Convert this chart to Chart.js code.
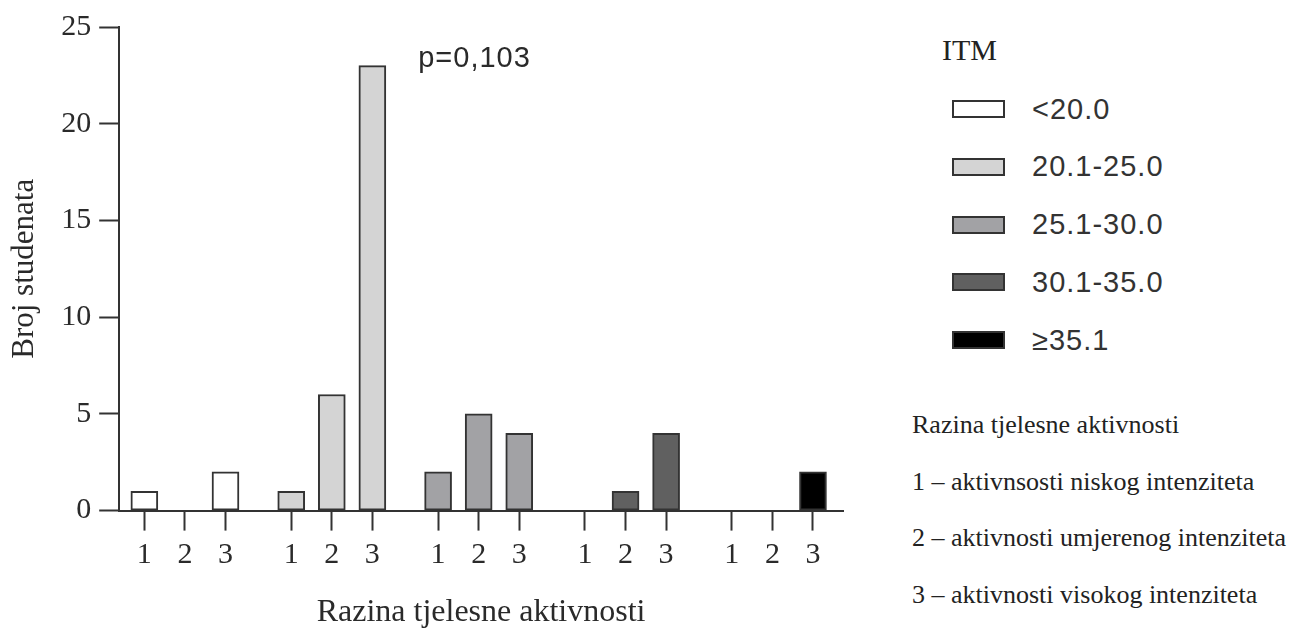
<!DOCTYPE html>
<html lang="hr">
<head>
<meta charset="utf-8">
<title>Broj studenata prema ITM i razini tjelesne aktivnosti</title>
<script src="https://cdn.jsdelivr.net/npm/chart.js@4.4.0/dist/chart.umd.min.js"></script>
<style>
  body { margin: 0; background: #fff; }
  #wrap {
    position: relative;
    width: 1296px;
    height: 632px;
    overflow: hidden;
    font-family: "Liberation Serif", "Times New Roman", serif;
    color: #222;
  }
  #chart-box { position: absolute; left: 0; top: 0; width: 880px; height: 632px; }
  .tekst { position: absolute; line-height: 40px; height: 40px; white-space: nowrap; }
  #itm { left: 942px; top: 30px; font-size: 30px; }
  .red { position: absolute; left: 952px; height: 40px; display: flex; align-items: center; }
  .kutija { width: 53px; height: 18px; border: 2px solid #333; box-sizing: border-box; }
  .oznaka {
    margin-left: 27px;
    font-family: "Liberation Sans", Arial, sans-serif;
    font-size: 29px;
    letter-spacing: 1px;
    color: #333;
  }
  .biljeska { left: 912px; font-size: 26px; }
</style>
</head>
<body>
<div id="wrap">
  <div id="chart-box"><canvas id="grafikon"></canvas></div>
  <div id="itm" class="tekst">ITM</div>
  <div id="legenda"></div>
  <div id="biljeske"></div>
</div>
<script>
// kategorije ITM (grupe) i razine tjelesne aktivnosti
const itmKategorije = ["<20.0", "20.1-25.0", "25.1-30.0", "30.1-35.0", "≥35.1"];
const razine = ["1", "2", "3"];

// broj studenata po razini aktivnosti (1, 2, 3) za svaku ITM grupu
const itmManjeOd20 = [1, 0, 2];
const itm20do25 = [1, 6, 23];
const itm25do30 = [2, 5, 4];
const itm30do35 = [0, 1, 4];
const itmVeceOd35 = [0, 0, 2];

// oznake osi y
const yOznake = [0, 5, 10, 15, 20, 25];

const pTekst = "p=0,103";
const biljeske = [
  "Razina tjelesne aktivnosti",
  "1 – aktivnsosti niskog intenziteta",
  "2 – aktivnosti umjerenog intenziteta",
  "3 – aktivnosti visokog intenziteta",
];

// boje grupa
const boje = ["#ffffff", "#d4d4d4", "#a2a2a5", "#606060", "#000000"];
const rub = "#333333";
const tekstBoja = "#2a2a2a";
const serif = '"Liberation Serif", "Times New Roman", serif';

// razmak izmedu grupa (u jedinicama jedne kategorije)
const korakGrupe = 3.62;

const serije = [itmManjeOd20, itm20do25, itm25do30, itm30do35, itmVeceOd35];

// pozicije kategorija na osi x
const pozicije = [];
serije.forEach((s, g) => razine.forEach((r, i) => pozicije.push(g * korakGrupe + i)));

const datasets = serije.map((vrijednosti, g) => ({
  label: itmKategorije[g],
  data: vrijednosti.map((y, i) => ({ x: g * korakGrupe + i, y: y })),
  backgroundColor: boje[g],
  borderColor: rub,
  borderWidth: 2,
  borderSkipped: false,
  barThickness: 27,
  grouped: false,
}));

// tekst p vrijednosti iznad grafikona
const pVrijednost = {
  id: "pVrijednost",
  afterDraw(chart) {
    const { ctx, chartArea } = chart;
    ctx.save();
    ctx.font = '29px "Liberation Sans", Arial, sans-serif';
    ctx.fillStyle = tekstBoja;
    ctx.textBaseline = "alphabetic";
    ctx.letterSpacing = "1px";
    ctx.fillText(pTekst, chartArea.left + 299, 67);
    ctx.restore();
  },
};

const ctx = document.getElementById("grafikon");
const grafikon = new Chart(ctx, {
  type: "bar",
  data: { datasets: datasets },
  plugins: [pVrijednost],
  options: {
    responsive: true,
    maintainAspectRatio: false,
    animation: false,
    layout: { padding: { left: 4, top: 27, right: 37, bottom: 0 } },
    plugins: {
      legend: { display: false },
      tooltip: { enabled: false },
    },
    scales: {
      x: {
        type: "linear",
        offset: false,
        min: -0.62,
        max: 17.22,
        afterBuildTicks: (axis) => {
          axis.ticks = pozicije.map((v) => ({ value: v }));
        },
        ticks: {
          autoSkip: false,
          maxRotation: 0,
          padding: 7,
          color: tekstBoja,
          font: { family: serif, size: 30 },
          callback: (v, i) => razine[i % razine.length],
        },
        grid: { offset: false, drawOnChartArea: false, tickLength: 20, tickWidth: 2, tickColor: rub },
        border: { width: 2, color: rub },
        title: {
          display: true,
          text: "Razina tjelesne aktivnosti",
          color: tekstBoja,
          font: { family: serif, size: 32 },
          padding: { top: 13, bottom: 0 },
        },
      },
      y: {
        min: 0,
        max: 25,
        afterBuildTicks: (axis) => {
          axis.ticks = yOznake.map((v) => ({ value: v }));
        },
        ticks: {
          padding: 8,
          color: tekstBoja,
          font: { family: serif, size: 30 },
        },
        grid: { drawOnChartArea: false, tickLength: 20, tickWidth: 2, tickColor: rub },
        border: { width: 2, color: rub },
        title: {
          display: true,
          text: "Broj studenata",
          color: tekstBoja,
          font: { family: serif, size: 31 },
          padding: { top: 2, bottom: 10 },
        },
      },
    },
  },
});

// legenda ITM
const legenda = document.getElementById("legenda");
itmKategorije.forEach((naziv, g) => {
  const red = document.createElement("div");
  red.className = "red";
  red.style.top = 89 + g * 57.75 + "px";
  red.innerHTML = `<div class="kutija" style="background:${boje[g]}"></div><span class="oznaka">${naziv.replace("<", "&lt;")}</span>`;
  legenda.appendChild(red);
});

// objasnjenje razina aktivnosti
const biljeskeDiv = document.getElementById("biljeske");
biljeske.forEach((t, i) => {
  const d = document.createElement("div");
  d.className = "tekst biljeska";
  d.style.top = 405 + i * 56.5 + "px";
  d.textContent = t;
  biljeskeDiv.appendChild(d);
});
</script>
</body>
</html>
